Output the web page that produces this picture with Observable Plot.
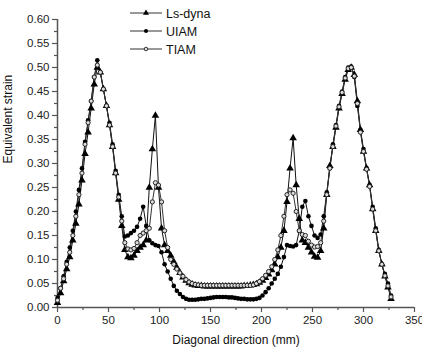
<!DOCTYPE html>
<html>
<head>
<meta charset="utf-8">
<script src="https://cdn.jsdelivr.net/npm/d3@7"></script>
<script src="https://cdn.jsdelivr.net/npm/@observablehq/plot@0.6"></script>
<style>
  body { margin: 0; background: #fff; }
  #wrap { position: relative; width: 422px; height: 355px; font-family: "Liberation Sans", Arial, sans-serif; }
  #legend { position: absolute; left: 0; top: 0; }
</style>
</head>
<body>
<div id="wrap"><div id="chart"></div><svg id="legend" width="260" height="60"></svg></div>
<script>
const seriesNames = ["Ls-dyna", "UIAM", "TIAM"];
const xs = [0,3,6,9,12,15,18,21,24,27,30,33,36,39,42,45,48,51,54,57,60,63,66,69,72,75,78,81,84,87,90,93,96,99,102,105,108,111,114,117,120,123,126,129,132,135,138,141,144,147,150,153,156,159,162,165,168,171,174,177,180,183,186,189,192,195,198,201,204,207,210,213,216,219,222,225,228,231,234,237,240,243,246,249,252,255,258,261,264,267,270,273,276,279,282,285,288,291,294,297,300,303,306,309,312,315,318,321,324,327];
const lsdyna = [0.010,0.030,0.055,0.080,0.105,0.140,0.175,0.215,0.265,0.320,0.365,0.415,0.465,0.500,0.490,0.455,0.420,0.380,0.335,0.280,0.225,0.170,0.120,0.105,0.103,0.108,0.118,0.125,0.130,0.140,0.250,0.330,0.400,0.250,0.165,0.130,0.118,0.108,0.095,0.083,0.072,0.063,0.056,0.051,0.048,0.046,0.045,0.045,0.044,0.044,0.044,0.044,0.044,0.044,0.044,0.044,0.044,0.044,0.044,0.044,0.044,0.045,0.045,0.046,0.047,0.049,0.052,0.056,0.062,0.069,0.078,0.090,0.105,0.125,0.160,0.220,0.290,0.353,0.255,0.185,0.140,0.135,0.125,0.115,0.106,0.104,0.118,0.165,0.235,0.295,0.335,0.375,0.415,0.445,0.475,0.495,0.500,0.485,0.430,0.370,0.325,0.290,0.255,0.205,0.160,0.118,0.090,0.065,0.042,0.018];
const uiam = [0.020,0.040,0.065,0.095,0.125,0.160,0.200,0.245,0.290,0.345,0.390,0.430,0.480,0.515,0.490,0.455,0.420,0.385,0.340,0.285,0.235,0.190,0.148,0.150,0.155,0.160,0.168,0.185,0.210,0.170,0.140,0.134,0.130,0.128,0.115,0.090,0.075,0.060,0.045,0.035,0.028,0.022,0.018,0.016,0.016,0.016,0.017,0.018,0.018,0.019,0.020,0.021,0.022,0.022,0.022,0.022,0.021,0.021,0.020,0.019,0.018,0.018,0.017,0.017,0.017,0.018,0.020,0.025,0.032,0.040,0.050,0.060,0.070,0.085,0.105,0.130,0.128,0.127,0.130,0.160,0.210,0.222,0.190,0.170,0.150,0.145,0.152,0.190,0.240,0.290,0.340,0.380,0.420,0.450,0.480,0.500,0.502,0.480,0.420,0.370,0.330,0.290,0.255,0.210,0.165,0.120,0.090,0.070,0.050,0.025];
const tiam = [0.015,0.040,0.060,0.090,0.115,0.150,0.190,0.235,0.280,0.340,0.385,0.430,0.480,0.505,0.490,0.455,0.420,0.380,0.335,0.280,0.230,0.180,0.135,0.122,0.120,0.123,0.135,0.150,0.155,0.160,0.165,0.220,0.260,0.255,0.220,0.160,0.125,0.100,0.090,0.080,0.072,0.065,0.058,0.053,0.050,0.048,0.047,0.046,0.046,0.046,0.046,0.046,0.046,0.046,0.046,0.046,0.046,0.046,0.046,0.046,0.046,0.046,0.046,0.046,0.047,0.050,0.054,0.060,0.067,0.075,0.085,0.100,0.120,0.150,0.190,0.235,0.245,0.238,0.200,0.160,0.152,0.150,0.138,0.130,0.126,0.127,0.135,0.180,0.235,0.290,0.335,0.378,0.418,0.448,0.478,0.498,0.500,0.482,0.425,0.365,0.325,0.288,0.252,0.205,0.160,0.118,0.090,0.066,0.045,0.022];
const xTicks = [0,50,100,150,200,250,300,350];
const xMinor = [25,75,125,175,225,275,325];
const yTicks = [0,0.05,0.10,0.15,0.20,0.25,0.30,0.35,0.40,0.45,0.50,0.55,0.60];
const yMinor = [0.025,0.075,0.125,0.175,0.225,0.275,0.325,0.375,0.425,0.475,0.525,0.575];

const seriesValues = [lsdyna, uiam, tiam];
const rows = [];
seriesNames.forEach((s, i) => xs.forEach((x, j) => rows.push({series: s, x, y: seriesValues[i][j]})));
const bySeries = s => rows.filter(r => r.series === s);

const axisColor = "#555";
const plot = Plot.plot({
  width: 422,
  height: 355,
  marginLeft: 57,
  marginRight: 8,
  marginTop: 19,
  marginBottom: 48,
  style: {fontFamily: "'Liberation Sans', Arial, sans-serif", fontSize: "11px", color: "#222", background: "#fff"},
  x: {domain: [0, 350]},
  y: {domain: [0, 0.6]},
  marks: [
    Plot.axisX({ticks: xTicks, tickSize: 5, tickPadding: 3, stroke: axisColor, strokeWidth: 1.2, fill: "#222", fontSize: 11.5, label: null}),
    Plot.axisX({ticks: xMinor, tickSize: 3, stroke: axisColor, strokeWidth: 1.2, text: null, label: null}),
    Plot.axisY({ticks: yTicks, tickSize: 5, tickPadding: 3, stroke: axisColor, strokeWidth: 1.2, fill: "#222", fontSize: 11.5, tickFormat: d3.format(".2f"), label: null}),
    Plot.axisY({ticks: yMinor, tickSize: 3, stroke: axisColor, strokeWidth: 1.2, text: null, label: null}),
    Plot.ruleY([0], {stroke: axisColor, strokeWidth: 1.5}),
    Plot.ruleX([0], {stroke: axisColor, strokeWidth: 1.5}),
    Plot.line(bySeries("Ls-dyna"), {x: "x", y: "y", stroke: "#111", strokeWidth: 1}),
    Plot.line(bySeries("UIAM"), {x: "x", y: "y", stroke: "#111", strokeWidth: 1}),
    Plot.line(bySeries("TIAM"), {x: "x", y: "y", stroke: "#333", strokeWidth: 1}),
    Plot.dot(bySeries("Ls-dyna"), {x: "x", y: "y", symbol: "triangle", r: 2.8, fill: "#000", stroke: "none"}),
    Plot.dot(bySeries("UIAM"), {x: "x", y: "y", symbol: "circle", r: 2.3, fill: "#000", stroke: "none"}),
    Plot.dot(bySeries("TIAM"), {x: "x", y: "y", symbol: "circle", r: 2.1, fill: "#ddd", stroke: "#222", strokeWidth: 1}),
    Plot.text(["Equivalent strain"], {frameAnchor: "left", dx: -49, rotate: -90, fontSize: 12, fill: "#111"}),
    Plot.text(["Diagonal direction (mm)"], {frameAnchor: "bottom", dy: 36, fontSize: 12, fill: "#111"})
  ]
});
document.getElementById("chart").appendChild(plot);

// legend
const leg = d3.select("#legend");
const legY = [13, 31, 49];
const sym = {"Ls-dyna": "triangle", "UIAM": "fill", "TIAM": "open"};
seriesNames.forEach((s, i) => {
  const g = leg.append("g").attr("transform", `translate(0,${legY[i]})`);
  g.append("line").attr("x1", 130).attr("x2", 162).attr("y1", 0).attr("y2", 0).attr("stroke", "#333").attr("stroke-width", 1);
  if (sym[s] === "triangle") g.append("path").attr("d", d3.symbol(d3.symbolTriangle, 16)()).attr("transform", "translate(146,0)").attr("fill", "#000");
  else if (sym[s] === "fill") g.append("circle").attr("cx", 146).attr("r", 2).attr("fill", "#000");
  else g.append("circle").attr("cx", 146).attr("r", 1.8).attr("fill", "#ddd").attr("stroke", "#222").attr("stroke-width", 0.9);
  g.append("text").attr("x", 166).attr("y", 4.5).attr("font-size", 12.5).attr("fill", "#111")
    .attr("font-family", "'Liberation Sans', Arial, sans-serif").text(s);
});
</script>
</body>
</html>
